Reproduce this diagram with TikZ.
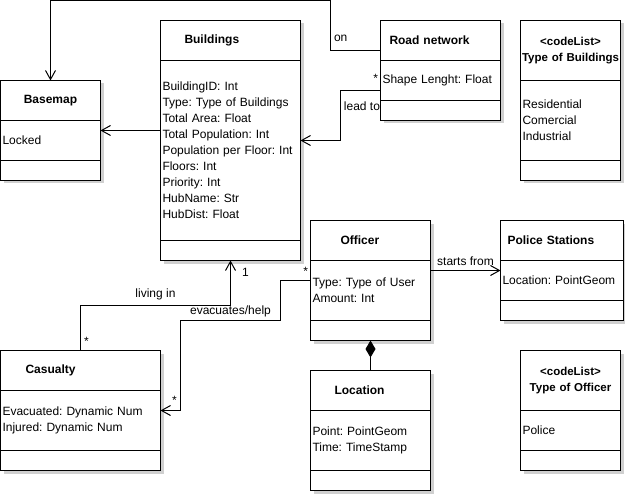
\documentclass[tikz,border=0pt]{standalone}
\usepackage{fontspec}
\setmainfont{Liberation Sans}
\frenchspacing
\usetikzlibrary{positioning,arrows.meta,backgrounds,calc}
\definecolor{ink}     {HTML}{000000}
\definecolor{dropgray}{HTML}{D0D0D0}
\tikzset{
  >={Straight Barb[length=9pt,width=10pt]},
  every node/.style={font=\fontsize{12}{16}\selectfont},
  % --- class compartments
  hdr/.style  = {draw=ink, fill=white, line width=1pt, outer sep=0pt, align=left,
                 minimum height=40pt, inner ysep=0pt,
                 font=\fontsize{12}{16}\selectfont\bfseries},
  cdl/.style  = {hdr, align=center, inner xsep=0pt, text width=100pt, minimum height=60pt,
                 font=\fontsize{11.5}{16}\selectfont\bfseries},
  att/.style  = {draw=ink, fill=white, line width=1pt, outer sep=0pt, align=left,
                 inner xsep=2pt, inner ysep=0pt},
  ops/.style  = {draw=ink, fill=white, line width=1pt, outer sep=0pt, inner sep=0pt,
                 minimum height=20pt},
  drop/.style = {fill=dropgray},
  lbl/.style  = {inner sep=0pt},
  % --- edges
  e/.style    = {->, line width=1pt, draw=ink},
  comp/.style = {-{Diamond[length=17pt,width=10pt]}, line width=1pt, draw=ink},
}
\begin{document}
\begin{tikzpicture}[x=1pt,y=-1pt]
  \useasboundingbox (0,0) rectangle (625,495);
  % Basemap
  \node[hdr, align=center, inner xsep=2pt, text width=96pt, anchor=north west] (baseH) at (0.5,80.5) {Basemap};
  \node[att, text width=96pt, minimum height=40pt, below=0pt of baseH] (baseA) {Locked};
  \node[ops, minimum width=100pt, below=0pt of baseA] (baseO) {};
  % Buildings
  \node[hdr, inner xsep=24pt, text width=92pt, anchor=north west] (bldH) at (160.5,20.5) {Buildings};
  \node[att, text width=136pt, minimum height=180pt, below=0pt of bldH] (bldA) {BuildingID: Int\\Type: Type of Buildings\\Total Area: Float\\Total Population: Int\\Population per Floor: Int\\Floors: Int\\Priority: Int\\HubName: Str\\HubDist: Float};
  \node[ops, minimum width=140pt, below=0pt of bldA] (bldO) {};
  % Road network
  \node[hdr, inner xsep=9pt, text width=102pt, anchor=north west] (roadH) at (380.5,20.5) {Road network};
  \node[att, text width=116pt, minimum height=40pt, below=0pt of roadH] (roadA) {Shape Lenght: Float};
  \node[ops, minimum width=120pt, below=0pt of roadA] (roadO) {};
  % Type of Buildings
  \node[cdl, anchor=north west] (tobH) at (520.5,20.5) {<codeList>\\Type of Buildings};
  \node[att, text width=96pt, minimum height=80pt, below=0pt of tobH] (tobA) {Residential\\Comercial\\Industrial};
  \node[ops, minimum width=100pt, below=0pt of tobA] (tobO) {};
  % Officer
  \node[hdr, inner xsep=30pt, text width=60pt, anchor=north west] (offH) at (310.5,220.5) {Officer};
  \node[att, text width=116pt, minimum height=60pt, below=0pt of offH] (offA) {Type: Type of User\\Amount: Int};
  \node[ops, minimum width=120pt, below=0pt of offA] (offO) {};
  % Police Stations
  \node[hdr, inner xsep=7pt, text width=109pt, anchor=north west] (polH) at (500.5,220.5) {Police Stations};
  \node[att, text width=119pt, minimum height=40pt, below=0pt of polH] (polA) {Location: PointGeom};
  \node[ops, minimum width=123pt, below=0pt of polA] (polO) {};
  % Casualty
  \node[hdr, inner xsep=25pt, text width=110pt, anchor=north west] (casH) at (0.5,350.5) {Casualty};
  \node[att, text width=156pt, minimum height=60pt, below=0pt of casH] (casA) {Evacuated: Dynamic Num\\Injured: Dynamic Num};
  \node[ops, minimum width=160pt, below=0pt of casA] (casO) {};
  % Location
  \node[hdr, inner xsep=24pt, text width=72pt, anchor=north west] (locH) at (310.5,370.5) {Location};
  \node[att, text width=116pt, minimum height=60pt, below=0pt of locH] (locA) {Point: PointGeom\\Time: TimeStamp};
  \node[ops, minimum width=120pt, below=0pt of locA] (locO) {};
  % Type of Officer
  \node[cdl, anchor=north west] (tooH) at (520.5,350.5) {<codeList>\\Type of Officer};
  \node[att, text width=96pt, minimum height=40pt, below=0pt of tooH] (tooA) {Police};
  \node[ops, minimum width=100pt, below=0pt of tooA] (tooO) {};
  % shadows
  \begin{scope}[on background layer]
    \foreach \cls in {base,bld,road,tob,off,pol,cas,loc,too}
      \fill[drop] ([shift={(3,3)}]\cls H.north west) rectangle ([shift={(3,3)}]\cls O.south east);
  \end{scope}
  % associations
  \draw[e] ([yshift=-10pt]roadH.west) -- ++(-50,0) node[lbl, pos=1, anchor=base west, xshift=3pt, yshift=9pt] {on}
           -- ++(0,-50) -| (baseH.north);
  \draw[e] ([yshift=-10pt]roadA.west) node[lbl, anchor=base east, xshift=-2pt, yshift=8pt] {*}
           node[lbl, anchor=base east, yshift=-20pt] {lead to}
           -- ++(-40,0) |- ([yshift=10pt]bldA.east);
  \draw[e] ([yshift=20pt]bldA.west) -- ([yshift=10pt]baseA.east);
  \draw[e] (casH.north) node[lbl, anchor=base west, xshift=3pt, yshift=5pt] {*}
           -- ++(0,-45) -| (bldO.south)
           node[lbl, pos=0.25, anchor=base, yshift=8pt] {living in}
           node[lbl, pos=1, anchor=base west, xshift=11pt, yshift=-16pt] {1};
  \draw[e] ([yshift=10pt]offA.west) node[lbl, anchor=base east, xshift=-2pt, yshift=5pt] {*}
           -- ++(-30,0) -- ++(0,40) -- ++(-100,0) node[lbl, midway, anchor=base, yshift=6pt] {evacuates/help}
           |- ([yshift=10pt]casA.east) node[lbl, pos=1, anchor=base west, xshift=11pt, yshift=6pt] {*};
  \draw[e] ([yshift=20pt]offA.east) -- ([yshift=10pt]polA.west)
           node[lbl, midway, anchor=base, yshift=5pt] {starts from};
  \draw[comp] (locH.north) -- (offO.south);
\end{tikzpicture}
\end{document}
